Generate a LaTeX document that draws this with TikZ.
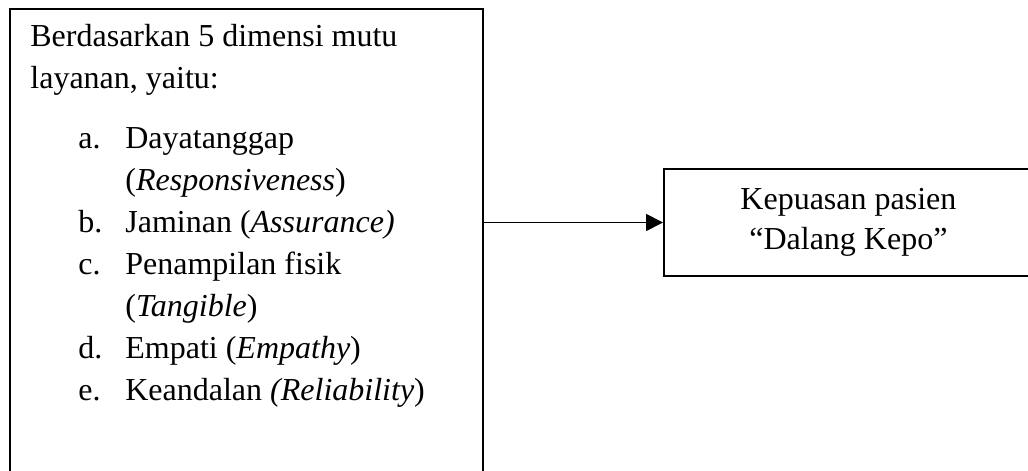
\documentclass[tikz,border=0pt]{standalone}
\usepackage{fontspec}
\setmainfont{Liberation Serif}
\usetikzlibrary{arrows.meta}
\tikzset{basic/.style={draw,line width=0.9pt,inner xsep=10pt,inner ysep=7.5pt}}
\tikzset{dimensi/.style={basic,rectangle,anchor=north west,minimum width=236.5pt,
                         font=\fontsize{16}{21}\selectfont}}
\tikzset{hasil/.style={basic,rectangle,anchor=west,minimum width=184.5pt,
                       minimum height=53.5pt,align=center,
                       font=\fontsize{16}{20}\selectfont}}
\tikzset{panah/.style={-{Triangle[length=8.5pt,width=8.5pt]},line width=0.9pt}}
\newcommand{\butir}[2]{\hspace*{24pt}\makebox[23.5pt][l]{#1}#2}
\newcommand{\lanjut}[1]{\hspace*{47.5pt}#1}

\begin{document}
\begin{tikzpicture}[x=0.5pt,y=-0.5pt]
    \useasboundingbox (0,0) rectangle (1028,471);

    % dimensi mutu layanan
    \node[dimensi] (dim) at (9,8) {\parbox[t][228pt][t]{216pt}{\raggedright
        Berdasarkan 5 dimensi mutu\\
        layanan, yaitu:\\[9pt]
        \butir{a.}{Dayatanggap}\\
        \lanjut{(\textit{Responsiveness})}\\
        \butir{b.}{Jaminan (\textit{Assurance)}}\\
        \butir{c.}{Penampilan fisik}\\
        \lanjut{(\textit{Tangible})}\\
        \butir{d.}{Empati (\textit{Empathy})}\\
        \butir{e.}{Keandalan \textit{(Reliability})}}};

    % kepuasan pasien
    \node[hasil] (puas) at (663,222.5) {Kepuasan pasien\\“Dalang Kepo”};

    \draw[panah] (dim.east |- puas.west) -- (puas.west);
\end{tikzpicture}
\end{document}
